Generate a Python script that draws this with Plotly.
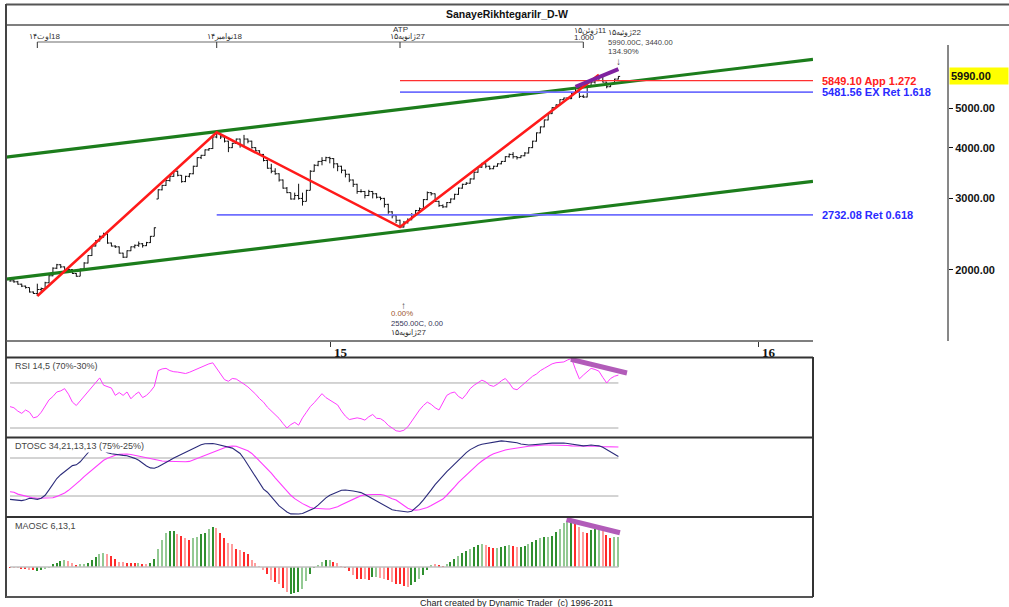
import math
import plotly.graph_objects as go

# ------------------------------------------------------------------ data
BAR_IDX = list(range(157))

OPEN = [1900,1880,1870,1845,1825,1810,1765,1750,1790,1800,
        1860,1935,2020,2060,2035,1995,2005,1960,1930,2010,
        2080,2170,2290,2360,2420,2455,2330,2290,2280,2200,
        2150,2230,2280,2300,2320,2295,2335,2420,2990,3150,
        3230,3320,3400,3500,3420,3300,3400,3450,3600,3780,
        3830,3950,3980,4250,4330,4250,4150,4000,4100,4200,
        4050,4200,4150,4000,3930,3850,3720,3560,3500,3450,
        3330,3180,3100,2990,3050,3000,2950,3140,3500,3620,
        3700,3720,3780,3760,3650,3600,3520,3440,3330,3250,
        3120,3120,3050,3120,3080,3020,3000,2900,2780,2720,
        2650,2550,2620,2660,2740,2800,2830,2980,3100,3080,
        2950,2880,2860,2930,2990,3070,3180,3250,3270,3350,
        3480,3580,3650,3600,3550,3600,3650,3700,3800,3850,
        3800,3780,3820,3880,4000,4150,4350,4500,4680,4850,
        5020,5100,5250,5300,5280,5450,5500,5350,5330,5650,
        5800,5850,6000,5800,5650,5750,5900]
HIGH = [1910,1895,1880,1850,1830,1810,1770,1850,1810,1870,
        1945,2030,2070,2065,2040,2020,2010,1965,2015,2090,
        2175,2300,2370,2430,2470,2455,2335,2300,2285,2205,
        2235,2285,2310,2350,2330,2345,2425,2545,3160,3240,
        3330,3420,3510,3510,3425,3410,3460,3610,3790,3840,
        3960,3990,4260,4362,4340,4260,4160,4110,4210,4210,
        4300,4210,4160,4010,3940,3860,3730,3650,3560,3460,
        3340,3200,3100,3100,3260,3100,3150,3520,3640,3710,
        3790,3800,3800,3770,3660,3610,3530,3450,3340,3260,
        3160,3130,3150,3130,3090,3030,3010,2910,2790,2730,
        2660,2640,2680,2760,2810,2850,2990,3120,3110,3085,
        2960,2900,2940,3000,3080,3190,3260,3290,3360,3490,
        3590,3670,3660,3610,3610,3660,3710,3810,3870,3900,
        3810,3830,3900,4010,4160,4360,4510,4690,4860,5030,
        5110,5260,5310,5310,5460,5640,5510,5400,5660,5810,
        5860,6010,6010,5810,5760,5910,6000]
LOW = [1870,1860,1840,1815,1800,1760,1745,1725,1770,1800,
       1855,1930,2010,2020,1990,1980,1955,1925,1930,2005,
       2075,2165,2285,2350,2400,2320,2285,2265,2195,2140,
       2145,2225,2260,2280,2270,2290,2330,2420,2990,3140,
       3220,3300,3390,3400,3280,3290,3380,3440,3590,3750,
       3820,3930,3970,4220,4200,4120,3900,3990,4090,4000,
       4040,4100,3980,3920,3840,3700,3550,3460,3430,3300,
       3170,3090,2980,2980,2980,2880,2950,3140,3490,3600,
       3620,3700,3660,3560,3500,3460,3380,3290,3200,3080,
       3100,3000,3040,3000,3000,2970,2850,2750,2680,2610,
       2540,2545,2600,2650,2730,2780,2820,2970,3050,2940,
       2860,2840,2850,2920,2980,3060,3170,3240,3260,3340,
       3470,3570,3560,3530,3540,3590,3640,3690,3780,3760,
       3740,3770,3810,3870,3990,4140,4340,4490,4670,4840,
       5010,5090,5240,5250,5270,5440,5300,5300,5320,5640,
       5750,5840,5790,5600,5640,5740,5890]
CLOSE = [1880,1870,1845,1825,1810,1765,1750,1790,1800,1860,
         1935,2020,2060,2035,1995,2005,1960,1930,2010,2080,
         2170,2290,2360,2420,2455,2330,2290,2280,2200,2150,
         2230,2280,2300,2320,2295,2335,2420,2540,3150,3230,
         3320,3400,3500,3420,3300,3400,3450,3600,3780,3830,
         3950,3980,4250,4330,4250,4150,4000,4100,4200,4050,
         4200,4150,4000,3930,3850,3720,3560,3500,3450,3330,
         3180,3100,2990,3050,3000,2950,3140,3500,3620,3700,
         3720,3780,3760,3650,3600,3520,3440,3330,3250,3120,
         3120,3050,3120,3080,3020,3000,2900,2780,2720,2650,
         2550,2620,2660,2740,2800,2830,2980,3100,3080,2950,
         2880,2860,2930,2990,3070,3180,3250,3270,3350,3480,
         3580,3650,3600,3550,3600,3650,3700,3800,3850,3800,
         3780,3820,3880,4000,4150,4350,4500,4680,4850,5020,
         5100,5250,5300,5280,5450,5500,5350,5330,5650,5800,
         5850,6000,5800,5650,5750,5900,5990]

RSI = [49,48,45,43,46,44,39,40,44,50,
       55,58,62,63,65,60,53,50,54,58,
       62,66,70.5,74.5,68,66.5,65.5,59,61.5,59,
       62,56,59.5,62,57,59,62.5,67,81,82.5,
       83,81,80,79.7,78.8,78.4,79.5,81,83,84.2,
       86,87,87.9,83,78,73,71.5,74,73.5,71.5,
       69,66.5,63.5,60,56,53,48.5,45,41.5,38.5,
       34,30,33,35,32.5,39,44,49,52.5,56.5,
       60.5,57,55,52.5,50.5,45,40.5,37.5,38.5,39,
       38.3,37,40,42,38.6,38.3,36,32.3,30,27.5,
       27,28,31,36,42,46,50,53,51,48,
       46,52,59,61,62,58,56,60,65,68,
       70,72.5,71,68,67,69,72,74,70,65,
       64,67,70,73,76,78,81,83,85,87,
       88,88.5,88.7,90.5,91.8,82,73.6,77,80,83,
       82,80.5,75,70,74,76,77]

DT_FAST = [20.6,20,19.5,19,20,22,21.5,20.6,22,26,
           33,41,48,53,57,60,65,66,70,76,
           82,88,90,89,85,82,80.5,79.5,79,78.5,
           78,76.5,74.5,72,68,64.5,62,61.5,63.5,66,
           69,72,75,77.5,79.5,81.5,84,87,90,92.5,
           93.8,94.3,94,93,92,91,89.5,88,84.5,81,
           74,66,57,49,41,34,30,24,18,12,
           8,4,1.5,1.2,1.3,2,4,6.5,9,13,
           18,22.5,26,28.5,31,32.5,33,32.5,31.5,30.5,
           29.5,27,24,21,18,15,12,9,7,6,
           5.5,4.5,4,5,9,14,20,26,33,40,
           46,52,57,62,67,73,78,82,86,89,
           91.5,93,94,95,96,97,97.5,97,96.5,96,
           95,93.5,92.5,92,92.5,93,93.5,94,94.5,94.5,
           94.5,94.7,94.7,94,93,92,91,91,91.5,92,
           91.5,91,89,86,83,80,77]

DT_SLOW = [30.7,30,27.5,26,24.5,23.5,22.5,22,22,22,
           22.2,22.8,24.5,26.5,29,32.5,36.5,41,45.5,50.5,
           55,59.5,64,68.5,72,74.8,77,78.5,79.8,80.3,
           80.2,79.5,78.5,77,75.7,74.5,73.5,72.5,71.5,71,
           70.8,70.5,70.3,70.2,70,70,70.5,72.5,75,77,
           79,81,83.5,85.5,87,88.5,90,90.8,90.5,89,
           86.5,84.6,81,76,71,66,61,55,49,43,
           37,31,26,21.5,18,15,12.5,10,9,8.5,
           8,7.9,8,9,11,13.5,16,18.5,21,23.5,
           25.5,26.5,27,27,27,27,26,23.5,21.5,19.7,
           16,12,9,7,6.5,7,8,10,12.5,15,
           17.5,21,26,31,37,43,48,53,58,63,
           67,71,75,78,80.5,82.5,84,85.5,86.5,87.5,
           88.5,89.5,90,90.5,91,91.5,92,92,92,92,
           92,92,91.5,91.5,91,91,91,91,91,91,
           90.5,90.5,90,90,89.5,89.5,89.5]

MAOSC = [-1,-0.5,-0.5,-1.5,-2,-2.7,-3.3,-4,-2.7,-1.7,
         -0.7,2.7,4.3,5.7,6.7,5.7,4.3,2,2.7,3.3,
         4.3,6.7,10,12.7,14,13.3,11,8.3,5,5,
         4.3,4,4,4,3.3,3.3,4.3,7.7,18.3,26.7,
         34,35.7,35.7,33.3,30.7,29.3,27.3,29.3,30,32.7,
         34,37.7,40,39,34,29.3,24,22.7,18.3,16.7,
         15,12.7,7.3,4,0.3,-2.7,-6.7,-12.7,-15,-17.3,
         -21,-25,-26.7,-26,-25,-21.7,-14,-7.3,-0.3,1.7,
         5,7.3,7.3,5,4,0.3,-0.3,-4,-8.3,-11.7,
         -12.3,-12.3,-13.3,-10,-10,-10.7,-11.7,-13.3,-15,-16.7,
         -17,-19,-20,-18,-15,-12,-8,-3,2,3,
         2,1,3,5,8,11,14,16,18,20,
         22,23,22,20,19,19,20,21,22,21,
         20,20,21,23,25,27,29,30,30,31,
         35,38,43.7,46,45,43.7,39.7,35,34,36.7,
         38.3,37.3,36,31.7,29.3,30,30]
# G = up (dark green), g = up (light green), R = down (red), r = down (light red)
MAOSC_DIR = ("R r r R R r R G G g  g G G G g r r R g g  G G G g g r R R r r  "
             "R R R g R r G G g g  g G G r R r R g g G  G g G r R R r r R r  "
             "R R r r r r R r R r  R r G G G g g G G g  g G g R r r R R r R  "
             "R r R G g r r R r R  R R r G G g G G g r  R R g G G g G G g G  "
             "G g r R R g G G g R  r G G g G G g G g G  G g g g G R r r R G  "
             "G g r R R g g").split()

PIVOT_IDX = [7, 53, 100, 147]
PIVOT_LABELS = ["18اوت۱۴", "18نوامبر۱۴", "27ژانویه۱۵", "11ژوئن۱۵"]
LAST_LABEL = "22ژوئیه۱۵"
LOW_CLOSE = 2550.00
LAST_CLOSE = 5990.00
ZIG_IDX = [7, 53, 100, 151]
ZIG_PRICE = [1725, 4362, 2550, 6050]
CHANNEL_IDX = [-1.03, 205.9]
CHANNEL_UPPER = [3792, 6600]
CHANNEL_LOWER = [1899, 3306]
FIB_LEVELS = [5849.10, 5481.56, 2732.08]
FIB_START_IDX = [100, 100, 53]
FIB_LABELS = ["5849.10 App 1.272", "5481.56 EX Ret 1.618", "2732.08 Ret 0.618"]
PRICE_TICKS = [2000, 3000, 4000, 5000]
PRICE_TICK_LABELS = ["2000.00", "3000.00", "4000.00", "5000.00"]
YEAR_TICK_IDX = [82.3, 192.0]
YEAR_LABELS = ["15", "16"]
RSI_LEVELS = [70, 30]
DT_LEVELS = [75, 25]
PURPLE_PRICE_X, PURPLE_PRICE_Y = [145, 156], [5650, 6240]
PURPLE_RSI_X, PURPLE_RSI_Y = [143.8, 158.2], [91, 78.9]
PURPLE_MA_X, PURPLE_MA_Y = [142.7, 156.4], [47.5, 34.3]

# ------------------------------------------------------------------ layout helpers
W, H = 1009, 607
def px(x): return x / W
def py(y): return 1 - y / H
def rtl(s): return "\u200f" + s

FONT = "Liberation Sans"
X_RANGE = [CHANNEL_IDX[0], CHANNEL_IDX[1]]
XDOM = [px(6), px(813)]
DIR_COLORS = {"G": "#2f8f2f", "g": "#93c993", "R": "#ff2b2b", "r": "#ff9d9d"}

fig = go.Figure()

# main panel -------------------------------------------------------
for ys in (CHANNEL_UPPER, CHANNEL_LOWER):
    fig.add_trace(go.Scatter(x=CHANNEL_IDX, y=ys, mode="lines",
                             line=dict(color="#1c7d1c", width=3.2),
                             xaxis="x", yaxis="y", hoverinfo="skip"))
fib_colors = ["#ff3030", "#6f6fff", "#6f6fff"]
fib_widths = [1.1, 1.8, 1.8]
for lvl, st, c, w in zip(FIB_LEVELS, FIB_START_IDX, fib_colors, fib_widths):
    fig.add_trace(go.Scatter(x=[st, X_RANGE[1]], y=[lvl, lvl], mode="lines",
                             line=dict(color=c, width=w),
                             xaxis="x", yaxis="y", hoverinfo="skip"))
fig.add_trace(go.Ohlc(x=BAR_IDX, open=OPEN, high=HIGH, low=LOW, close=CLOSE,
                      increasing=dict(line=dict(color="#111111", width=1)),
                      decreasing=dict(line=dict(color="#111111", width=1)),
                      tickwidth=0.45, xaxis="x", yaxis="y", hoverinfo="skip"))
fig.add_trace(go.Scatter(x=ZIG_IDX, y=ZIG_PRICE, mode="lines",
                         line=dict(color="#ff1a1a", width=2.6),
                         xaxis="x", yaxis="y", hoverinfo="skip"))
fig.add_trace(go.Scatter(x=PURPLE_PRICE_X, y=PURPLE_PRICE_Y, mode="lines",
                         line=dict(color="#7f22a0", width=4),
                         xaxis="x", yaxis="y", hoverinfo="skip"))

# RSI panel --------------------------------------------------------
for lv in RSI_LEVELS:
    fig.add_trace(go.Scatter(x=[BAR_IDX[0], BAR_IDX[-1]], y=[lv, lv], mode="lines",
                             line=dict(color="#a8a8a8", width=1),
                             xaxis="x2", yaxis="y2", hoverinfo="skip"))
fig.add_trace(go.Scatter(x=BAR_IDX, y=RSI, mode="lines",
                         line=dict(color="#ff3cff", width=1),
                         xaxis="x2", yaxis="y2", hoverinfo="skip"))
fig.add_trace(go.Scatter(x=PURPLE_RSI_X, y=PURPLE_RSI_Y, mode="lines",
                         line=dict(color="#b25cb9", width=5),
                         xaxis="x2", yaxis="y2", hoverinfo="skip"))

# DTOSC panel ------------------------------------------------------
for lv in DT_LEVELS:
    fig.add_trace(go.Scatter(x=[BAR_IDX[0], BAR_IDX[-1]], y=[lv, lv], mode="lines",
                             line=dict(color="#a8a8a8", width=1),
                             xaxis="x3", yaxis="y3", hoverinfo="skip"))
fig.add_trace(go.Scatter(x=BAR_IDX, y=DT_SLOW, mode="lines",
                         line=dict(color="#ff3cff", width=1.1),
                         xaxis="x3", yaxis="y3", hoverinfo="skip"))
fig.add_trace(go.Scatter(x=BAR_IDX, y=DT_FAST, mode="lines",
                         line=dict(color="#2b2b7a", width=1.1),
                         xaxis="x3", yaxis="y3", hoverinfo="skip"))

# MAOSC panel ------------------------------------------------------
fig.add_trace(go.Scatter(x=[BAR_IDX[0], BAR_IDX[-1]], y=[0, 0], mode="lines",
                         line=dict(color="#c0c0c0", width=1.5),
                         xaxis="x4", yaxis="y4", hoverinfo="skip"))
fig.add_trace(go.Bar(x=BAR_IDX, y=MAOSC, width=0.38,
                     marker=dict(color=[DIR_COLORS[d] for d in MAOSC_DIR], line=dict(width=0)),
                     xaxis="x4", yaxis="y4", hoverinfo="skip"))
fig.add_trace(go.Scatter(x=PURPLE_MA_X, y=PURPLE_MA_Y, mode="lines",
                         line=dict(color="#b25cb9", width=5),
                         xaxis="x4", yaxis="y4", hoverinfo="skip"))

# ------------------------------------------------------------------ shapes
shapes = []
def pline(x0, y0, x1, y1, color="#444", width=2):
    shapes.append(dict(type="line", xref="paper", yref="paper",
                       x0=px(x0), y0=py(y0), x1=px(x1), y1=py(y1),
                       line=dict(color=color, width=width)))
pline(6, 4.5, 1009, 4.5, "#555", 2)
pline(6, 25, 1009, 25, "#555", 1.5)
pline(6, 4, 6, 598, "#444", 2)
pline(6, 341, 813, 341, "#555", 1.5)
pline(6, 357.5, 813, 357.5, "#333", 2)
pline(6, 437.5, 813, 437.5, "#333", 2)
pline(6, 517, 813, 517, "#333", 2)
pline(6, 597, 813, 597, "#555", 2)
pline(813, 357, 813, 597, "#333", 2)
pline(948, 45, 948, 341, "#111", 1)
# date ruler
shapes.append(dict(type="line", xref="x", yref="paper",
                   x0=PIVOT_IDX[0], x1=PIVOT_IDX[-1], y0=py(42), y1=py(42),
                   line=dict(color="#b5b5b5", width=2)))
for pi in PIVOT_IDX:
    shapes.append(dict(type="line", xref="x", yref="paper",
                       x0=pi, x1=pi, y0=py(42), y1=py(48),
                       line=dict(color="#333", width=1)))

# ------------------------------------------------------------------ annotations
ann = []
def note(text, x, y, xref="paper", yref="paper", size=8, color="#333",
         xanchor="center", xshift=0, family=FONT, **kw):
    ann.append(dict(text=text, x=x, y=y, xref=xref, yref=yref, showarrow=False,
                    xanchor=xanchor, yanchor="middle", xshift=xshift,
                    font=dict(family=family, size=size, color=color), **kw))

note("<b>SanayeRikhtegariIr_D-W</b>", px(507), py(14), size=10.5, color="#111")

pivot_label_y = [36.5, 36.5, 36.5, 30]
for pi, lab, yy in zip(PIVOT_IDX, PIVOT_LABELS, pivot_label_y):
    note(rtl(lab), pi, py(yy), xref="x", xshift=7.5, size=8, color="#333")
note("ATP", PIVOT_IDX[2], py(29.5), xref="x", size=8, color="#333")
note("1.000", PIVOT_IDX[3], py(37.5), xref="x", xshift=1.5, size=8, color="#333")

last = BAR_IDX[-1]
note(rtl(LAST_LABEL), last, py(32.5), xref="x", xanchor="left", xshift=-12.4, size=8)
note("%.2fC, %.2f" % (LAST_CLOSE, LAST_CLOSE - LOW_CLOSE), last, py(42), xref="x",
     xanchor="left", xshift=-12.4, size=7.6, color="#444")
note("%.2f%%" % ((LAST_CLOSE - LOW_CLOSE) / LOW_CLOSE * 100), last, py(52), xref="x",
     xanchor="left", xshift=-12.4, size=7.8, color="#444")
note("↓", last, py(61), xref="x", size=10, color="#444")

low_i = PIVOT_IDX[2]
note("↑", low_i, py(305), xref="x", xshift=3, size=10, color="#444")
note("%.2f%%" % 0.0, low_i, py(313.5), xref="x", xanchor="left", xshift=-11,
     size=7.8, color="#a0582d")
note("%.2fC, %.2f" % (LOW_CLOSE, 0.0), low_i, py(323.5), xref="x", xanchor="left",
     xshift=-11, size=7.6, color="#333355")
note(rtl(PIVOT_LABELS[2]), low_i, py(333), xref="x", xanchor="left", xshift=-11, size=8)

fib_text_colors = ["#ff2020", "#2a2aff", "#2a2aff"]
for lvl, lab, c in zip(FIB_LEVELS, FIB_LABELS, fib_text_colors):
    note("<b>%s</b>" % lab, px(820), math.log10(lvl), yref="y", xanchor="left",
         size=11, color=c)

ann.append(dict(text="<b>%.2f</b>" % LAST_CLOSE, x=px(949), y=math.log10(LAST_CLOSE),
                xref="paper", yref="y", showarrow=False, xanchor="left", yanchor="middle",
                bgcolor="#ffff00", width=56, height=14, align="left", borderpad=1,
                font=dict(family=FONT, size=11, color="#111")))

for ti, tl in zip(YEAR_TICK_IDX, YEAR_LABELS):
    note("<b>%s</b>" % tl, ti, py(352.5), xref="x", xanchor="left", xshift=1,
         size=13, color="#111", family="Liberation Serif")

note("RSI 14,5 (70%-30%)", px(13), py(365.5), xanchor="left", size=9, color="#444")
note("DTOSC 34,21,13,13 (75%-25%)", px(13), py(445.5), xanchor="left", size=9,
     color="#444", bgcolor="white")
note("MAOSC 6,13,1", px(13), py(525.5), xanchor="left", size=9, color="#444")
note("Chart created by Dynamic Trader  (c) 1996-2011", px(418), py(603), xanchor="left",
     size=9, color="#222")

# ------------------------------------------------------------------ axes
hidden_x = dict(domain=XDOM, range=X_RANGE, visible=False, fixedrange=True)
fig.update_layout(
    width=W, height=H, margin=dict(l=0, r=0, t=0, b=0),
    paper_bgcolor="white", plot_bgcolor="white", showlegend=False,
    xaxis=dict(domain=XDOM, range=X_RANGE, anchor="y", showgrid=False, zeroline=False,
               showticklabels=False, ticks="outside", tickvals=YEAR_TICK_IDX, ticklen=5,
               tickcolor="#333", showline=False, rangeslider=dict(visible=False)),
    yaxis=dict(domain=[py(341), py(25)], type="log",
               range=[math.log10(1337), math.log10(8017)],
               anchor="free", position=px(948), side="right", showgrid=False,
               zeroline=False, tickvals=PRICE_TICKS,
               ticktext=["<b>%s</b>" % t for t in PRICE_TICK_LABELS],
               ticks="outside", ticklen=4, tickcolor="#111",
               tickfont=dict(family=FONT, size=11, color="#111")),
    xaxis2=dict(hidden_x, anchor="y2"),
    yaxis2=dict(domain=[py(437), py(358)], range=[22, 92.2], visible=False),
    xaxis3=dict(hidden_x, anchor="y3"),
    yaxis3=dict(domain=[py(517), py(438)], range=[-2.6, 101.3], visible=False),
    xaxis4=dict(hidden_x, anchor="y4"),
    yaxis4=dict(domain=[py(597), py(518)], range=[-30, 49], visible=False),
    shapes=shapes, annotations=ann, bargap=0,
)

fig.write_html("out.html",
               config={"displayModeBar": False},
               post_script="document.body.style.margin='0px';"
                           "document.body.style.overflow='hidden';")
